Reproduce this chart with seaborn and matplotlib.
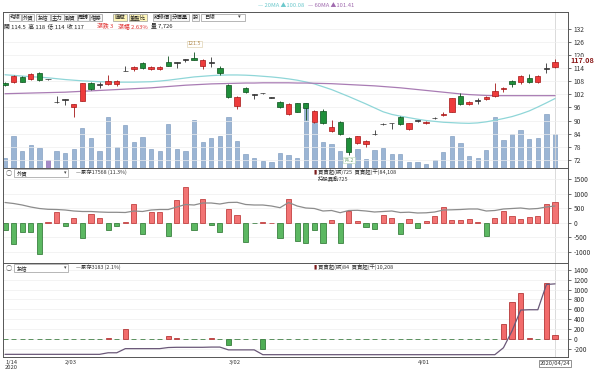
import numpy as np
import pandas as pd
import matplotlib
matplotlib.use("Agg")
import matplotlib.pyplot as plt
import matplotlib.transforms as mtrans
from matplotlib.patches import Rectangle
import seaborn as sns

sns.set_style("white")
plt.rcParams['font.family'] = ['Noto Sans CJK TC', 'DejaVu Sans']
plt.rcParams['axes.unicode_minus'] = False

# ---- daily candles ----
opens = [107.2, 107.6, 110.1, 109.0, 111.7, 108.9, 98.4, 99.4, 96.1, 99.1,
         107.4, 106.3, 106.8, 106.8, 112.7, 113.5, 116.3, 113.7, 113.7, 117.0,
         116.5, 117.9, 118.5, 115.2, 116.4, 114.3, 106.3, 96.8, 104.8, 101.7,
         102.5, 100.5, 98.7, 93.0, 97.9, 97.9, 89.2, 94.4, 85.2, 89.2,
         81.9, 79.6, 79.4, 83.7, 88.3, 88.7, 91.8, 86.1, 89.8, 88.7,
         91.0, 92.3, 94.1, 101.3, 97.6, 99.0, 99.9, 101.3, 104.3, 108.1,
         107.8, 109.7, 107.8, 113.7, 114.5]
highs = [107.5, 111.0, 110.5, 111.6, 112.4, 109.2, 101.3, 99.8, 97.8, 107.3,
         107.8, 107.8, 110.9, 108.6, 115.2, 114.8, 116.8, 114.9, 114.9, 119.8,
         116.8, 118.4, 121.5, 118.2, 119.3, 115.0, 106.8, 101.2, 105.2, 102.1,
         102.8, 100.7, 99.0, 98.0, 98.2, 98.2, 94.7, 95.2, 90.3, 89.6,
         82.6, 83.0, 80.9, 85.7, 89.0, 89.0, 92.1, 89.0, 90.2, 89.8,
         91.8, 94.0, 100.5, 102.6, 99.0, 100.2, 101.1, 107.1, 105.5, 108.5,
         111.0, 111.5, 111.0, 116.3, 118.0]
lows = [106.0, 107.0, 107.5, 108.5, 108.3, 108.6, 98.2, 97.0, 91.5, 98.9,
        104.0, 104.8, 106.2, 105.8, 112.5, 112.6, 113.6, 113.4, 113.4, 114.8,
        114.0, 117.0, 117.6, 113.5, 114.6, 111.0, 100.5, 95.5, 102.6, 99.8,
        102.0, 100.3, 95.8, 92.4, 93.8, 90.3, 88.8, 88.4, 84.6, 83.4,
        74.2, 79.2, 77.8, 83.5, 88.0, 86.3, 88.0, 85.6, 89.5, 88.5,
        90.6, 92.0, 93.8, 97.2, 97.3, 97.8, 99.6, 101.0, 103.2, 105.5,
        106.8, 107.3, 107.4, 111.7, 114.0]
closes = [106.4, 110.6, 107.8, 111.2, 108.6, 108.9, 98.4, 99.4, 97.6, 107.1,
          104.3, 106.3, 108.3, 108.3, 112.7, 114.4, 114.0, 114.6, 114.6, 115.2,
          116.5, 117.9, 117.9, 117.8, 116.4, 111.8, 101.0, 100.8, 103.0, 101.7,
          102.5, 100.5, 96.1, 97.6, 94.1, 95.9, 94.4, 88.7, 87.2, 83.7,
          75.4, 82.7, 80.6, 83.7, 88.3, 88.7, 88.3, 88.7, 89.8, 89.5,
          91.0, 93.2, 100.2, 97.5, 98.7, 99.0, 100.8, 103.7, 105.1, 106.8,
          110.6, 107.6, 110.6, 113.7, 117.08]
volume = [2270, 7260, 3860, 5220, 4540, 1820, 3860, 3400, 4310, 9080,
          6810, 3860, 11580, 4770, 9760, 5900, 7040, 4310, 3860, 9990,
          4310, 3860, 10900, 5900, 6810, 7260, 11580, 6130, 3180, 2270,
          1590, 1360, 3400, 2950, 2270, 14760, 10220, 5900, 5450, 3860,
          1360, 4310, 2040, 4090, 4540, 3180, 3180, 1360, 1360, 910,
          1820, 3630, 7260, 5680, 2720, 2270, 4090, 11580, 6360, 7720,
          8630, 6580, 6810, 12260, 7726]
ma20 = [111.0, 110.7, 110.4, 110.1, 109.9, 109.6, 109.2, 108.8, 108.5, 108.2,
        108.0, 107.8, 107.7, 107.6, 107.6, 107.6, 107.7, 107.8, 108.1, 108.5,
        109.0, 109.5, 110.0, 110.3, 110.6, 110.8, 110.9, 110.9, 110.8, 110.6,
        110.3, 110.0, 109.6, 109.1, 108.5, 107.7, 106.8, 105.5, 104.2, 102.6,
        101.0, 99.3, 97.6, 95.8, 94.0, 92.8, 92.0, 91.3, 90.6, 90.0,
        89.6, 89.2, 89.0, 88.8, 88.7, 88.9, 89.4, 90.1, 90.9, 91.8,
        93.0, 94.4, 96.2, 98.1, 100.08]
ma60 = [102.3, 102.4, 102.5, 102.6, 102.7, 102.8, 102.9, 103.0, 103.2, 103.4,
        103.6, 103.8, 104.0, 104.2, 104.4, 104.6, 104.8, 105.0, 105.3, 105.6,
        105.9, 106.2, 106.4, 106.6, 106.8, 106.9, 107.0, 107.1, 107.2, 107.2,
        107.3, 107.3, 107.3, 107.3, 107.2, 107.2, 107.1, 107.0, 106.9, 106.7,
        106.5, 106.3, 106.1, 105.9, 105.6, 105.3, 105.0, 104.6, 104.2, 103.8,
        103.4, 103.0, 102.6, 102.2, 101.9, 101.7, 101.5, 101.4, 101.4, 101.4,
        101.4, 101.4, 101.4, 101.4, 101.41]

# ---- 外資 (foreign) net buy/sell, lots, and holdings line ----
foreign = [-243, -730, -340, -340, -1100, 30, 360, -115, 150, -520,
           300, 160, -255, -115, 20, 635, -405, 360, 360, -460,
           775, 1240, -265, 810, -80, -340, 460, 255, -660, 0,
           10, 5, -520, 810, -635, -705, -265, -715, 90, -715,
           405, 60, -150, -230, 255, 175, -400, 115, -195, 55,
           230, 545, 80, 90, 140, 35, -460, 175, 405, 230,
           115, 195, 230, 660, 715]
foreign_hold = [17918, 17818, 17668, 17468, 17318, 17238, 17218, 17168, 17068, 17018,
                17018, 16968, 16938, 16938, 16918, 17068, 17018, 17168, 17218, 17218,
                17468, 17718, 17668, 17868, 17868, 17768, 17918, 17938, 17718, 17668,
                17668, 17568, 17398, 17918, 17568, 17368, 17318, 17068, 17118, 16898,
                17118, 17138, 17068, 16968, 17018, 17068, 16918, 16948, 16868, 16888,
                16968, 17168, 17188, 17218, 17268, 17268, 17068, 17118, 17268, 17318,
                17368, 17268, 17318, 17468, 17568]

# ---- 投信 (investment trust) net buy/sell and holdings line ----
trust = [0, 0, 0, 0, 0, 0, 0, 0, 0, 0,
         0, 0, 12, 0, 200, 0, 0, 0, 0, 55,
         10, 0, 0, 0, 10, 0, -130, 0, 0, 0,
         -215, 0, 0, 0, 0, 0, 0, 0, 0, 0,
         0, 0, 0, 0, 0, 0, 0, 0, 0, 0,
         0, 0, 0, 0, 0, 0, 0, 0, 310, 755,
         930, 15, 0, 1130, 80]
trust_hold = [30, 30, 30, 30, 30, 30, 30, 30, 30, 30,
              30, 30, 100, 100, 285, 285, 285, 285, 285, 335,
              345, 345, 345, 345, 355, 355, 230, 230, 230, 230,
              15, 15, 15, 15, 15, 15, 15, 15, 15, 15,
              15, 15, 15, 15, 15, 15, 15, 15, 15, 15,
              15, 15, 15, 15, 15, 15, 15, 15, 325, 1080,
              2010, 2025, 2025, 3155, 3183]

date_pos = [0, 7, 26, 48]
date_labels = ['1/14\n2020', '2/03', '3/02', '4/01']

n = len(closes)
idx = np.arange(n)
df = pd.DataFrame({'i': idx, 'o': opens, 'h': highs, 'l': lows, 'c': closes,
                   'vol': volume, 'ma20': ma20, 'ma60': ma60})

W, H = 598, 374
fig = plt.figure(figsize=(W / 100, H / 100), dpi=100)


def rect(x0, y0, x1, y1):
    return [x0 / W, 1 - y1 / H, (x1 - x0) / W, (y1 - y0) / H]


def ftext(x, y, s, **kw):
    kw.setdefault('fontsize', 4.5)
    kw.setdefault('va', 'center')
    fig.text(x / W, 1 - y / H, s, **kw)


def fbox(x0, y0, x1, y1, fc='white', ec='#9a9a9a'):
    fig.add_artist(Rectangle((x0 / W, 1 - y1 / H), (x1 - x0) / W, (y1 - y0) / H,
                             transform=fig.transFigure, fc=fc, ec=ec, lw=0.5))


X0, X1 = 3, 568
axv = fig.add_axes(rect(X0, 12, X1, 168))
ax1 = fig.add_axes(rect(X0, 12, X1, 168), sharex=axv)
ax2 = fig.add_axes(rect(X0, 168, X1, 263), sharex=axv)
ax3 = fig.add_axes(rect(X0, 263, X1, 357), sharex=axv)
ax1.patch.set_alpha(0)

axv.set_xlim(-0.233, 65.51)
frame = '#555555'
tick_col = '#333333'

# volume behind the candles
vcol = ['#a58ac8' if i == 5 else '#9bb5d4' for i in idx]
vedge = ['#7a5aa8' if i == 5 else '#7593ba' for i in idx]
axv.bar(idx, df['vol'], width=0.5, color=vcol, edgecolor=vedge, linewidth=0.4)
axv.set_ylim(0, 35400)
axv.axis('off')

# candles: red = up, green = down
for i, r in df.iterrows():
    if r.c > r.o:
        fc, ec = '#ee3b3b', '#a41515'
    elif r.c < r.o:
        fc, ec = '#1f8f3a', '#0c4f1c'
    else:
        fc, ec = '#333333', '#333333'
    ax1.vlines(r.i, r.l, r.h, color=ec, lw=0.6, zorder=2)
    body = max(abs(r.c - r.o), 0.25)
    ax1.bar(r.i, body, bottom=min(r.o, r.c), width=0.62, color=fc, edgecolor=ec,
            linewidth=0.5, zorder=3)

sns.lineplot(data=df, x='i', y='ma20', ax=ax1, color='#8fd6d8', lw=0.9, zorder=1)
sns.lineplot(data=df, x='i', y='ma60', ax=ax1, color='#a97cb4', lw=0.9, zorder=1)

ax1.set_ylim(68.2, 139.8)
ax1.set_yticks(range(72, 133, 6))
ax1.grid(axis='y', color='#eeeeee', lw=0.5)
ax1.set_axisbelow(True)

ax1.annotate('121.5', (22, 121.5), xytext=(0, 4), textcoords='offset points',
             ha='center', va='bottom', fontsize=3.8, color='#b08a50',
             bbox=dict(boxstyle='square,pad=0.15', fc='white', ec='#d8c8a0', lw=0.4))
ax1.annotate('74.2', (40, 74.2), xytext=(0, -2), textcoords='offset points',
             ha='center', va='top', fontsize=3.8, color='#6aa06a', zorder=5,
             bbox=dict(boxstyle='square,pad=0.15', fc='white', ec='#b8d8b8', lw=0.4))
tr = mtrans.blended_transform_factory(ax1.transAxes, ax1.transData)
ax1.text(1.005, 117.6, '117.08', transform=tr, fontsize=5.2, color='#8b1a1a',
         weight='bold', va='center', ha='left', zorder=6,
         bbox=dict(boxstyle='square,pad=0.05', fc='white', ec='none'))

# foreign panel
fc2 = ['#f27474' if v > 0 else '#5cb862' for v in foreign]
ec2 = ['#b82a2a' if v > 0 else '#24702a' for v in foreign]
ax2.bar(idx, foreign, width=0.6, color=fc2, edgecolor=ec2, linewidth=0.5)
ax2.set_ylim(-1399, 1899)
ax2.set_yticks([-1000, -500, 0, 500, 1000, 1500])
ax2.grid(axis='y', color='#eeeeee', lw=0.5)
ax2.set_axisbelow(True)
ax2t = ax2.twinx()
sns.lineplot(x=idx, y=foreign_hold, ax=ax2t, color='#8c8c8c', lw=0.9)
ax2t.set_ylim(11868, 21368)
ax2t.set_yticks([])
ax2t.set_ylabel('')

# trust panel
fc3 = ['#f26b6b' if v > 0 else '#4fae55' for v in trust]
ec3 = ['#a82020' if v > 0 else '#1f6a25' for v in trust]
ax3.bar(idx, trust, width=0.6, color=fc3, edgecolor=ec3, linewidth=0.5)
ax3.set_ylim(-368, 1541)
ax3.set_yticks(range(-200, 1401, 200))
ax3.grid(axis='y', color='#eeeeee', lw=0.5)
ax3.set_axisbelow(True)
ax3t = ax3.twinx()
sns.lineplot(x=idx, y=trust_hold, ax=ax3t, color='#6a5878', lw=0.9)
ax3t.set_ylim(-89, 4116)
ax3t.set_yticks([])
ax3t.set_ylabel('')

for ax in (ax1, ax2, ax3):
    ax.axvline(n - 1, color='#d5d5d5', lw=0.6, zorder=0)
    ax.yaxis.tick_right()
    ax.tick_params(axis='y', labelsize=4.8, length=2, pad=2, colors=tick_col,
                   width=0.5)
    ax.set_ylabel('')
    ax.set_xlabel('')
    for s in ax.spines.values():
        s.set_color(frame)
        s.set_linewidth(0.7)
for ax in (ax2t, ax3t):
    for s in ax.spines.values():
        s.set_visible(False)

ax1.tick_params(axis='x', bottom=False, labelbottom=False)
ax2.tick_params(axis='x', bottom=False, labelbottom=False)
ax3.set_xticks(date_pos)
ax3.set_xticklabels(date_labels, linespacing=1.05)
ax3.tick_params(axis='x', labelsize=4.2, length=0, pad=2, colors=tick_col)
for lab in ax3.get_xticklabels():
    lab.set_horizontalalignment('left')
    lab.set_verticalalignment('top')
ax3.annotate('2020/04/24', (n - 1, 0), xycoords=('data', 'axes fraction'),
             xytext=(0, -3), textcoords='offset points', ha='center', va='top',
             fontsize=4.2, color=tick_col,
             bbox=dict(boxstyle='square,pad=0.2', fc='white', ec='#666666', lw=0.5))

# top legend
ftext(258, 5.5, '— 20MA ▲100.08', color='#6cc8cc', fontsize=4.2)
ftext(308, 5.5, '— 60MA ▲101.41', color='#a06aae', fontsize=4.2)

# toolbar
buttons = [('均線', 9, 21, False), ('外資', 22, 34, False), ('投信', 36, 50, False),
           ('主力', 51, 64, False), ('融資', 64, 77, False), ('周轉', 78, 89, False),
           ('借券', 90, 102, False), ('庫藏', 113, 127, True), ('董監比', 129, 147, True),
           ('紀錄價', 153, 170, False), ('分價量', 171, 189, False), ('設', 192, 199, False)]
for lab, a, b, hl in buttons:
    fbox(a, 13.5, b, 20.5, fc='#fff6b8' if hl else '#f7f7f7')
    ftext((a + b) / 2, 17, lab, ha='center', fontsize=3.9, color='#222222')
fbox(201, 13.5, 245, 20.5)
ftext(204, 17, '日線', fontsize=3.9, color='#222222')
ftext(238, 17, '▾', fontsize=3.9, color='#444444')

ftext(4, 26, '開 114.5  高 118  低 114  收 117', color='#222222', fontsize=4.2)
ftext(97, 26, '漲跌 3', color='#e03030', fontsize=4.2)
ftext(118, 26, '漲幅 2.63%', color='#e03030', fontsize=4.2)
ftext(151, 26, '量 7,726', color='#222222', fontsize=4.2)

# panel headers
for y, name, hold_txt, right1, right2 in [
        (173, '外資', '—累存17568 (11.3%)', '買賣超(張)725  買賣超(千)84,108', '持股異動725'),
        (268, '投信', '—累存3183 (2.1%)', '買賣超(張)84  買賣超(千)10,208', None)]:
    ftext(9, y, '○', ha='center', fontsize=4.5, color='#555555')
    fbox(14, y - 4, 68, y + 4)
    ftext(17, y, name, fontsize=3.9, color='#222222')
    ftext(64, y, '▾', fontsize=3.6, color='#444444')
    ftext(76, y - 0.5, hold_txt, fontsize=3.9, color='#333333')
    ftext(313, y - 1, '▮', fontsize=4.2, color='#7a1a1a')
    ftext(318, y - 1, right1, fontsize=3.9, color='#333333')
    if right2:
        ftext(318, y + 5, right2, fontsize=3.9, color='#333333')

fig.savefig('out.png', dpi=100)
